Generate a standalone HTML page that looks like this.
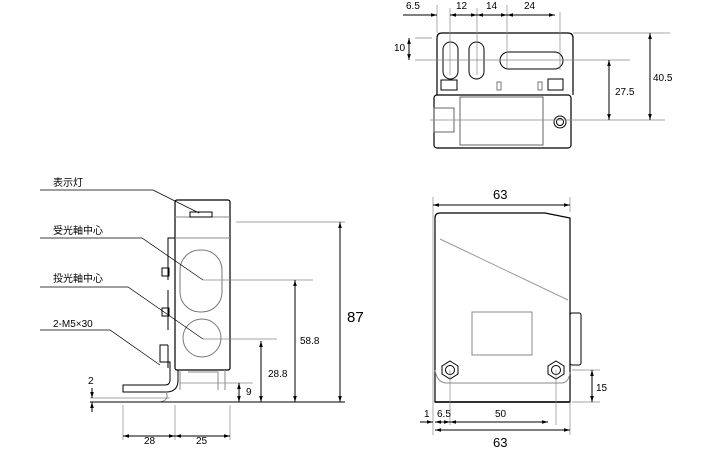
<!DOCTYPE html>
<html><head><meta charset="utf-8"><style>
html,body{margin:0;padding:0;background:#fff;}
svg{display:block;font-family:"Liberation Sans","Noto Sans CJK JP",sans-serif;}
</style></head><body>
<svg width="725" height="450" viewBox="0 0 725 450" xmlns="http://www.w3.org/2000/svg">
<defs>
<marker id="a" viewBox="0 0 10 10" refX="10" refY="5" markerWidth="6" markerHeight="6" orient="auto-start-reverse"><path d="M0,2 L10,5 L0,8 z" fill="#000"/></marker>
</defs>
<g fill="none" stroke="#000" stroke-width="1">
<!-- TOP VIEW -->
<path d="M437,95 V38 Q437,33 442,33 H568 Q573,33 573,38 V95" stroke-width="1.2"/>
<rect x="434" y="95" width="137" height="53" rx="3" stroke-width="1.2"/>
<rect x="443" y="42" width="15" height="37" rx="7.5"/>
<rect x="469" y="42" width="15" height="37" rx="7.5"/>
<rect x="500" y="52" width="63" height="17" rx="8.5"/>
<rect x="460" y="97" width="83" height="48" stroke="#666"/>
<rect x="434" y="108" width="20" height="24" stroke="#666"/>
<rect x="441" y="80" width="16" height="10"/><rect x="548" y="79" width="15" height="11"/>
<rect x="497" y="82" width="4" height="8" stroke="#777"/><rect x="538" y="82" width="4" height="8" stroke="#777"/>
<circle cx="560" cy="122" r="6"/><circle cx="560" cy="122" r="3.5"/>
<g stroke="#888" stroke-width="0.7">
<line x1="437" y1="5" x2="437" y2="33"/><line x1="450" y1="8" x2="450" y2="75"/><line x1="477" y1="8" x2="477" y2="75"/>
<line x1="507" y1="5" x2="507" y2="70"/><line x1="560" y1="12" x2="560" y2="70"/>
<line x1="573" y1="33" x2="670" y2="33"/><line x1="415" y1="38" x2="432" y2="38"/><line x1="415" y1="60" x2="630" y2="60"/>
<line x1="430" y1="120" x2="665" y2="120"/>
</g>
<line x1="403" y1="15" x2="437" y2="15" marker-end="url(#a)"/>
<line x1="450" y1="15" x2="477" y2="15" marker-start="url(#a)" marker-end="url(#a)"/>
<line x1="477" y1="15" x2="507" y2="15" marker-start="url(#a)" marker-end="url(#a)"/>
<line x1="507" y1="15" x2="555" y2="15" marker-start="url(#a)" marker-end="url(#a)"/>
<line x1="409" y1="38" x2="409" y2="60" marker-start="url(#a)" marker-end="url(#a)"/>
<line x1="650" y1="33" x2="650" y2="120" marker-start="url(#a)" marker-end="url(#a)"/>
<line x1="609" y1="60" x2="609" y2="120" marker-start="url(#a)" marker-end="url(#a)"/>

<!-- SIDE VIEW -->
<rect x="175" y="200" width="55" height="170" rx="2" stroke-width="1.2"/>
<path d="M175,217 H230 M175,238 H230" stroke="#888"/>
<rect x="190" y="212" width="22" height="5"/>
<rect x="180" y="250" width="42" height="62" rx="20" stroke="#777"/>
<circle cx="202" cy="338" r="19" stroke="#777"/>
<path d="M175,238 L168,238 V280 M168,290 V330 M168,345 V368" stroke="#000"/>
<rect x="162" y="268" width="7" height="8"/><rect x="162" y="308" width="7" height="8"/>
<path d="M168,345 L160,345 V362 L170,362 V380 Q170,385 165,385 H123 V392 H166 Q178,392 178,380 V370" stroke="#000"/>
<path d="M180,370 V390 M225,370 V390 M188,372 H218 V390" stroke="#888"/>
<path d="M166,392 Q170,400 160,402" stroke="#888"/>
<line x1="90" y1="402" x2="345" y2="402" stroke-width="1"/>
<g stroke="#888" stroke-width="0.7">
<line x1="236" y1="222" x2="345" y2="222"/><line x1="203" y1="280" x2="313" y2="280"/><line x1="203" y1="339" x2="277" y2="339"/>
<line x1="180" y1="383" x2="253" y2="383"/><line x1="90" y1="398" x2="170" y2="398"/>
<line x1="123" y1="405" x2="123" y2="440"/><line x1="175" y1="405" x2="175" y2="440"/><line x1="230" y1="405" x2="230" y2="440"/>
</g>
<line x1="340" y1="222" x2="340" y2="402" marker-start="url(#a)" marker-end="url(#a)"/>
<line x1="295" y1="280" x2="295" y2="402" marker-start="url(#a)" marker-end="url(#a)"/>
<line x1="261" y1="341" x2="261" y2="402" marker-start="url(#a)" marker-end="url(#a)"/>
<line x1="239" y1="383" x2="239" y2="402" marker-start="url(#a)" marker-end="url(#a)"/>
<line x1="92" y1="388" x2="92" y2="398" marker-end="url(#a)"/><line x1="92" y1="412" x2="92" y2="402" marker-end="url(#a)"/>
<line x1="123" y1="436" x2="175" y2="436" marker-start="url(#a)" marker-end="url(#a)"/>
<line x1="175" y1="436" x2="230" y2="436" marker-start="url(#a)" marker-end="url(#a)"/>
<g stroke="#000" stroke-width="0.7">
<path d="M40,190 H153 L199,213"/><path d="M40,238 H142 L203,280"/><path d="M40,287 H128 L203,339"/><path d="M40,330 H110 L160,365"/>
</g>

<!-- FRONT VIEW -->
<path d="M435,402 V218 Q435,213 440,213 H545 L570,218 V402 Z" stroke-width="1.2"/>
<path d="M435,402 H570" stroke-width="1.5"/>
<line x1="440" y1="239" x2="568" y2="300" stroke="#999"/>
<rect x="472" y="312" width="60" height="43" stroke="#888"/>
<path d="M435,370 Q437,383 447,383 H561 Q569,383 570,372" stroke="#888"/>
<rect x="570" y="313" width="11" height="52" rx="2"/>
<polygon points="450,361 458,366 458,374 450,379 442,374 442,366"/><circle cx="450" cy="370" r="4.5"/>
<polygon points="556,361 564,366 564,374 556,379 548,374 548,366"/><circle cx="556" cy="370" r="4.5"/>
<g stroke="#888" stroke-width="0.7">
<line x1="433" y1="197" x2="433" y2="435"/><line x1="570" y1="197" x2="570" y2="212"/><line x1="570" y1="402" x2="570" y2="435"/>
<line x1="450" y1="370" x2="450" y2="425"/><line x1="556" y1="370" x2="556" y2="425"/>
<line x1="572" y1="370" x2="600" y2="370"/><line x1="572" y1="402" x2="600" y2="402"/>
</g>
<line x1="433" y1="205" x2="570" y2="205" marker-start="url(#a)" marker-end="url(#a)"/>
<line x1="592" y1="370" x2="592" y2="402" marker-start="url(#a)" marker-end="url(#a)"/>
<line x1="420" y1="422" x2="433" y2="422" marker-end="url(#a)"/>
<line x1="435" y1="422" x2="450" y2="422" marker-start="url(#a)" marker-end="url(#a)"/>
<line x1="450" y1="422" x2="548" y2="422" marker-start="url(#a)" marker-end="url(#a)"/>
<line x1="435" y1="430" x2="570" y2="430" marker-start="url(#a)" marker-end="url(#a)"/>
</g>
<g font-size="10" fill="#000">
<text x="406" y="9">6.5</text><text x="456" y="9">12</text><text x="486" y="9">14</text><text x="524" y="9">24</text>
<text x="394" y="51">10</text><text x="653" y="81">40.5</text><text x="615" y="95">27.5</text>
<text x="53" y="186">表示灯</text><text x="53" y="234">受光軸中心</text><text x="53" y="282">投光軸中心</text><text x="53" y="327">2-M5×30</text>
<text x="300" y="344">58.8</text><text x="268" y="377">28.8</text><text x="246" y="395">9</text><text x="88" y="384">2</text>
<text x="144" y="444">28</text><text x="196" y="444">25</text>
<text x="596" y="391">15</text><text x="424" y="417">1</text><text x="437" y="417">6.5</text><text x="495" y="417">50</text>
</g>
<text x="347" y="322" font-size="15" fill="#000">87</text>
<text x="493" y="199" font-size="13" fill="#000">63</text>
<text x="493" y="447" font-size="13" fill="#000">63</text>
</svg>
</body></html>
